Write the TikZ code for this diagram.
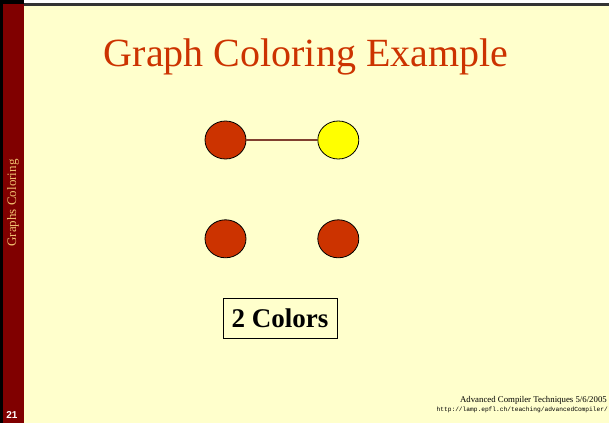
\documentclass[tikz,border=0pt]{standalone}
\usepackage{fontspec}
\setmainfont{Liberation Serif}
\setsansfont{Liberation Sans}
\setmonofont{Liberation Mono}
\usepackage{tikz}
\usetikzlibrary{positioning, shapes.geometric}
\definecolor{slidebg}{RGB}{255,255,204}
\definecolor{sidebar}{RGB}{128,0,0}
\definecolor{rust}{RGB}{204,51,0}
\definecolor{sunny}{RGB}{255,255,0}
\definecolor{edgebrown}{RGB}{128,64,48}
\definecolor{sidetext}{RGB}{240,192,112}

\begin{document}
\begin{tikzpicture}[
			x=1pt, y=-1pt,
			node distance=60pt and 71pt,
			vertex/.style={ellipse, draw=black, line width=0.8pt, minimum width=41pt,
				minimum height=38pt, inner sep=0pt},
			redvertex/.style={vertex, fill=rust},
			yellowvertex/.style={vertex, fill=sunny},
			link/.style={draw=edgebrown, line width=1.8pt},
			countbox/.style={draw=black, line width=0.6pt, minimum width=114pt, minimum height=40pt,
				inner sep=0pt, font=\bfseries\fontsize{27}{30}\selectfont},
			footer/.style={anchor=base east, inner sep=0pt}
			]
			
			% Slide frame
			\useasboundingbox (0,0) rectangle (609,423);
			\fill[slidebg] (0,0) rectangle (609,423);
			\fill[white] (24,0) rectangle (609,3);
			\fill[black!80] (24,3) rectangle (609,5.5);
			\fill[black] (0,0) rectangle (24,4);
			\fill[black] (0,0) rectangle (3,423);
			\fill[sidebar] (3,4) rectangle (24,423);
			
			% Sidebar labels
			\node[rotate=90, text=sidetext, font=\fontsize{13}{15}\selectfont] (side) at (13,203) {Graphs Coloring};
			\node[anchor=base, text=white, font=\sffamily\bfseries\fontsize{10}{11}\selectfont] (page) at (12,418) {21};
			
			% Title
			\node[anchor=base, text=rust, font=\fontsize{40}{44}\selectfont] (title) at (306,66) {Graph Coloring Example};
			
			% Nodes
			\node[redvertex] (a) at (225.5,140) {};
			\node[yellowvertex, right=of a] (b) {};
			\node[redvertex, below=of a] (c) {};
			\node[redvertex, below=of b] (d) {};
			
			% Edge
			\draw[link] (a) -- (b);
			
			% Count
			\node[countbox] (count) at (280,318) {2 Colors};
			
			% Footer
			\node[footer, font=\fontsize{8.8}{10}\selectfont] (course) at (607,402) {Advanced Compiler Techniques 5/6/2005};
			\node[footer, font=\ttfamily\fontsize{6.2}{7}\selectfont] (url) at (608,411) {http://lamp.epfl.ch/teaching/advancedCompiler/};
			
		\end{tikzpicture}
\end{document}
